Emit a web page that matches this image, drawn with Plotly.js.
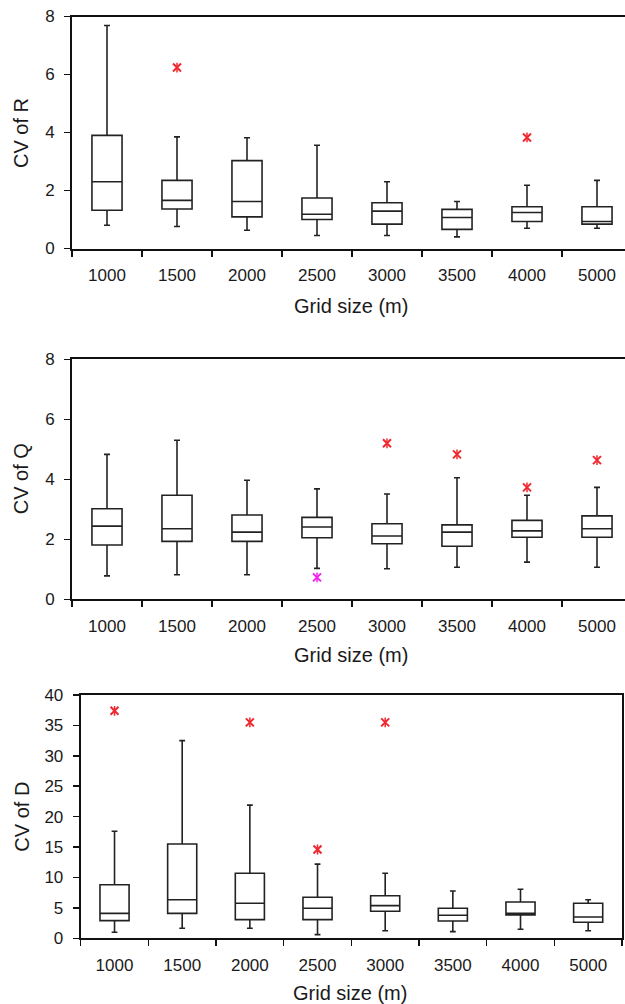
<!DOCTYPE html>
<html>
<head>
<meta charset="utf-8">
<script src="https://cdn.plot.ly/plotly-3.0.1.min.js"></script>
<style>
  html, body { margin: 0; padding: 0; overflow: hidden; background: #fff; }
  #chart { width: 640px; height: 1004px; }
</style>
</head>
<body>
<div id="chart"></div>
<script>
// Categories (grid size, m)
const categories = ['1000', '1500', '2000', '2500', '3000', '3500', '4000', '5000'];
const yTickValsRQ = [0, 2, 4, 6, 8];
const yTickValsD = [0, 5, 10, 15, 20, 25, 30, 35, 40];

// Panel 1: CV of R
const rLow    = [0.80, 0.76, 0.63, 0.45, 0.45, 0.40, 0.70, 0.70];
const rQ1     = [1.32, 1.36, 1.09, 1.00, 0.84, 0.66, 0.93, 0.84];
const rMedian = [2.30, 1.66, 1.62, 1.18, 1.29, 1.07, 1.24, 0.93];
const rQ3     = [3.90, 2.35, 3.03, 1.74, 1.58, 1.35, 1.44, 1.44];
const rHigh   = [7.69, 3.85, 3.82, 3.56, 2.30, 1.62, 2.18, 2.35];
const rOutX   = ['1500', '4000'];
const rOutY   = [6.24, 3.83];
const rOutC   = ['#f0282e', '#f0282e'];

// Panel 2: CV of Q
const qLow    = [0.78, 0.82, 0.82, 1.03, 1.02, 1.07, 1.24, 1.07];
const qQ1     = [1.81, 1.93, 1.93, 2.05, 1.85, 1.77, 2.07, 2.07];
const qMedian = [2.44, 2.35, 2.24, 2.41, 2.11, 2.24, 2.28, 2.35];
const qQ3     = [3.02, 3.47, 2.81, 2.73, 2.52, 2.48, 2.63, 2.78];
const qHigh   = [4.83, 5.30, 3.97, 3.68, 3.51, 4.05, 3.47, 3.73];
const qOutX   = ['2500', '3000', '3500', '4000', '5000'];
const qOutY   = [0.73, 5.20, 4.83, 3.73, 4.64];
const qOutC   = ['#f020f0', '#f0282e', '#f0282e', '#f0282e', '#f0282e'];

// Panel 3: CV of D
const dLow    = [1.0, 1.64, 1.64, 0.6, 1.25, 1.09, 1.48, 1.25];
const dQ1     = [2.9, 4.1, 3.07, 3.07, 4.44, 2.85, 3.83, 2.63];
const dMedian = [4.1, 6.35, 5.76, 4.93, 5.37, 3.78, 4.1, 3.5];
const dQ3     = [8.8, 15.5, 10.7, 6.74, 7.0, 4.93, 5.97, 5.76];
const dHigh   = [17.6, 32.5, 21.9, 12.2, 10.7, 7.78, 8.06, 6.35];
const dOutX   = ['1000', '2000', '2500', '3000'];
const dOutY   = [37.4, 35.5, 14.6, 35.5];
const dOutC   = ['#f0282e', '#f0282e', '#f0282e', '#f0282e'];

const FONT = 'Liberation Sans, Arial, sans-serif';
const TXT = '#1a1a1a';

function boxTrace(xa, ya, q1, med, q3, lo, hi) {
  return {
    type: 'box', xaxis: xa, yaxis: ya,
    x: categories, q1: q1, median: med, q3: q3,
    lowerfence: lo, upperfence: hi,
    boxpoints: false, width: 0.43, whiskerwidth: 0.2,
    fillcolor: 'rgba(255,255,255,0)',
    line: { color: '#222', width: 1.6 },
    showlegend: false, hoverinfo: 'skip'
  };
}
function outTraces(xa, ya, xs, ys, cs) {
  return [
    { type: 'scatter', mode: 'markers', xaxis: xa, yaxis: ya, x: xs, y: ys,
      marker: { symbol: 'x-thin-open', size: 8, color: cs, line: { color: cs, width: 2 } },
      showlegend: false, hoverinfo: 'skip' },
    { type: 'scatter', mode: 'markers', xaxis: xa, yaxis: ya, x: xs, y: ys,
      marker: { symbol: 'line-ns-open', size: 7, color: cs, line: { color: cs, width: 1.5 } },
      showlegend: false, hoverinfo: 'skip' }
  ];
}

const data = [
  boxTrace('x', 'y', rQ1, rMedian, rQ3, rLow, rHigh),
  ...outTraces('x', 'y', rOutX, rOutY, rOutC),
  boxTrace('x2', 'y2', qQ1, qMedian, qQ3, qLow, qHigh),
  ...outTraces('x2', 'y2', qOutX, qOutY, qOutC),
  boxTrace('x3', 'y3', dQ1, dMedian, dQ3, dLow, dHigh),
  ...outTraces('x3', 'y3', dOutX, dOutY, dOutC)
];

function xAxis(domain, anchor) {
  return {
    type: 'category', categoryorder: 'array', categoryarray: categories,
    domain: domain, anchor: anchor, range: [-0.5, 7.5],
    showline: true, linecolor: '#111', linewidth: 2, mirror: true,
    ticks: 'outside', ticklen: 6, tickwidth: 1.5, tickcolor: '#111',
    tickson: 'boundaries', ticklabelstandoff: 10,
    showgrid: false, zeroline: false, fixedrange: true,
    tickfont: { family: FONT, size: 17, color: TXT }
  };
}
function yAxis(domain, anchor, range, tv) {
  return {
    domain: domain, anchor: anchor, range: range,
    tickmode: 'array', tickvals: tv, ticktext: tv.map(String),
    showline: true, linecolor: '#111', linewidth: 2, mirror: true,
    ticks: 'outside', ticklen: 6, tickwidth: 1.5, tickcolor: '#111',
    ticklabelstandoff: 6,
    showgrid: false, zeroline: false, fixedrange: true,
    tickfont: { family: FONT, size: 17, color: TXT }
  };
}

const W = 640, H = 1004;
const p1 = { x: [72 / W, 632 / W], y: [1 - 248.5 / H, 1 - 16.5 / H] };
const p2 = { x: [72 / W, 632 / W], y: [1 - 599.3 / H, 1 - 359.3 / H] };
const p3 = { x: [80.7 / W, 622 / W], y: [1 - 938.3 / H, 1 - 695 / H] };

function xTitle(cx, cy) {
  return { text: 'Grid size (m)', xref: 'paper', yref: 'paper', x: cx / W, y: 1 - cy / H,
    xanchor: 'center', yanchor: 'middle', showarrow: false,
    font: { family: FONT, size: 20, color: TXT } };
}
function yTitle(text, cx, cy) {
  return { text: text, xref: 'paper', yref: 'paper', x: cx / W, y: 1 - cy / H,
    xanchor: 'center', yanchor: 'middle', showarrow: false, textangle: -90,
    font: { family: FONT, size: 20, color: TXT } };
}

const layout = {
  width: W, height: H,
  margin: { l: 0, r: 0, t: 0, b: 0 },
  paper_bgcolor: '#fff', plot_bgcolor: '#fff',
  xaxis: xAxis(p1.x, 'y'),
  yaxis: yAxis(p1.y, 'x', [0, 8], yTickValsRQ),
  xaxis2: xAxis(p2.x, 'y2'),
  yaxis2: yAxis(p2.y, 'x2', [0, 8], yTickValsRQ),
  xaxis3: xAxis(p3.x, 'y3'),
  yaxis3: yAxis(p3.y, 'x3', [0, 40], yTickValsD),
  annotations: [
    xTitle(351, 306), xTitle(351, 655), xTitle(350, 993),
    yTitle('CV of R', 21, 133), yTitle('CV of Q', 21, 479.3), yTitle('CV of D', 22, 816.7)
  ],
  showlegend: false
};

Plotly.newPlot('chart', data, layout, { displayModeBar: false, staticPlot: true });
</script>
</body>
</html>
